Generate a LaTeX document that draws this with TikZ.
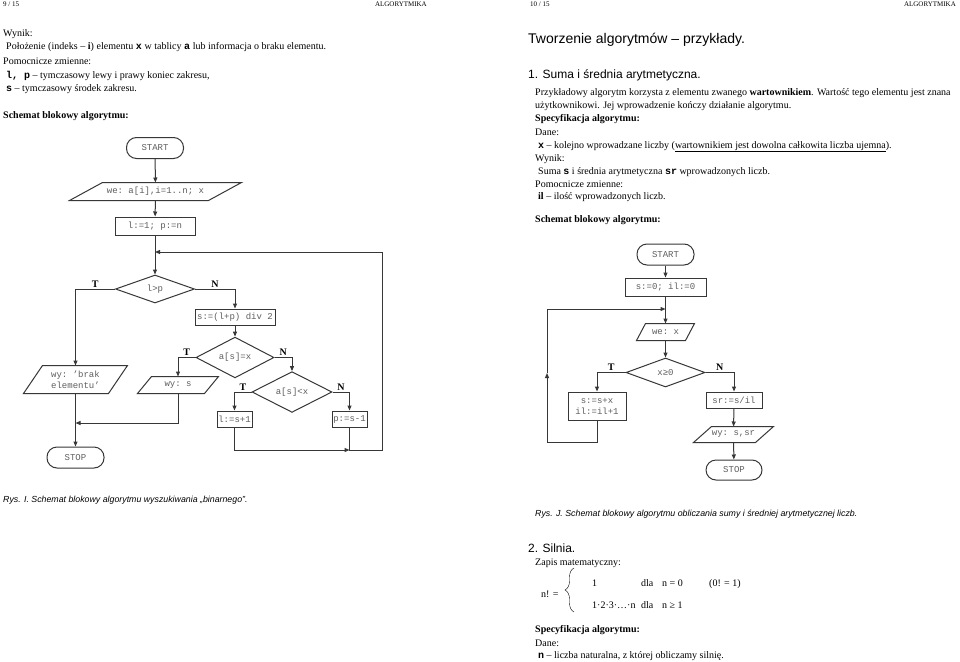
\documentclass[tikz,border=0pt]{standalone}
\usepackage{fontspec}
\setmainfont{Liberation Serif}
\setsansfont{Liberation Sans}
\setmonofont{Liberation Mono}
\usetikzlibrary{arrows.meta,shapes.geometric,decorations.pathreplacing}
\definecolor{fcline}{RGB}{55,55,55}
\definecolor{fctext}{RGB}{95,95,95}
\newcommand{\kod}[1]{\texttt{\textbf{#1}}}

\begin{document}
\begin{tikzpicture}[x=1pt, y=-1pt,
  fc/.style={draw=fcline, line width=1pt, text=fctext, inner sep=0pt,
    font=\ttfamily\fontsize{9}{11}\selectfont, align=center},
  term/.style={fc, rounded corners=10pt, minimum width=57pt, minimum height=21pt},
  proc/.style={fc, rectangle},
  decision/.style={fc, diamond},
  iobox/.style={fc, draw=none},
  flow/.style={draw=fcline, line width=1pt},
  arr/.style={flow, -{Triangle[length=5pt,width=4pt]}},
  lab/.style={font=\bfseries\fontsize{10}{12}\selectfont, inner sep=1.5pt},
  bodytxt/.style={anchor=base west, inner sep=0pt, font=\fontsize{10}{12}\selectfont},
  hdrtxt/.style={anchor=base west, inner sep=0pt, font=\fontsize{7}{8}\selectfont},
  sectxt/.style={anchor=base west, inner sep=0pt, font=\sffamily\fontsize{12}{14}\selectfont},
  captxt/.style={anchor=base west, inner sep=0pt, font=\sffamily\itshape\fontsize{8.8}{10}\selectfont}]
\fill[white] (0,0) rectangle (960,661);
\useasboundingbox (0,0) rectangle (960,661);

% ---- page 9: headers and text
\node[hdrtxt] (pgL) at (3,7) {9 / 15};
\node[hdrtxt, anchor=base east] (alL) at (427,7) {ALGORYTMIKA};
\node[bodytxt] (wynL) at (3,37) {Wynik:};
\node[bodytxt] (wynL1) at (6,50) {\makebox[320pt][s]{Położenie (indeks – \textbf{i}) elementu \kod{x} w tablicy \kod{a} lub informacja o braku elementu.}};
\node[bodytxt] (pomL) at (3,64.5) {Pomocnicze zmienne:};
\node[bodytxt] (pomL1) at (6,78) {\kod{l, p} – tymczasowy lewy i prawy koniec zakresu,};
\node[bodytxt] (pomL2) at (6,91) {\kod{s} – tymczasowy środek zakresu.};
\node[bodytxt] (schL) at (3,118) {\textbf{Schemat blokowy algorytmu:}};

% ---- binary search flowchart
\node[term] (start1) at (155,148) {START};
\node[iobox, minimum width=171pt, minimum height=17pt] (in1) at (155.5,191.5) {we: a[i],i=1..n; x};
\draw[flow] (in1.south west) -- ([xshift=33pt]in1.north west) -- (in1.north east) -- ([xshift=-33pt]in1.south east) -- cycle;
\node[proc, minimum width=80pt, minimum height=18pt] (init1) at (155,226) {l:=1; p:=n};
\coordinate (join1) at (155,252);
\node[decision, minimum width=79pt, minimum height=28pt] (cmp1) at (155,289) {l>p};
\node[iobox, minimum width=103pt, minimum height=27pt] (brak) at (75.5,379.5) {wy: ’brak\\elementu’};
\draw[flow] (brak.south west) -- ([xshift=19pt]brak.north west) -- (brak.north east) -- ([xshift=-19pt]brak.south east) -- cycle;
\node[proc, minimum width=80pt, minimum height=16pt] (mid) at (235,317) {s:=(l+p) div 2};
\node[decision, minimum width=78pt, minimum height=29pt] (eq) at (235,357.5) {a[s]=x};
\node[iobox, minimum width=80pt, minimum height=16pt] (outs) at (178,385) {wy: s};
\draw[flow] (outs.south west) -- ([xshift=14pt]outs.north west) -- (outs.north east) -- ([xshift=-14pt]outs.south east) -- cycle;
\node[decision, minimum width=80pt, minimum height=28pt] (lt) at (292,392) {a[s]<x};
\node[proc, minimum width=35pt, minimum height=16pt] (lnew) at (234.5,419) {l:=s+1};
\node[proc, minimum width=35pt, minimum height=16pt] (pnew) at (349.5,419) {p:=s-1};
\node[term] (stop1) at (75.5,457.5) {STOP};
\coordinate (merge1) at (75.5,423);
\coordinate (loopB) at (349.5,450);
\coordinate (loopR) at (382,450);

\draw[arr] (start1) -- (in1);
\draw[arr] (in1) -- (init1);
\draw[arr] (init1) -- (cmp1);
\draw[arr] (cmp1.west) -| node[lab, pos=0.25, above] (t1) {T} (brak.north);
\draw[arr] (cmp1.east) -| node[lab, pos=0.25, above] (n1) {N} (mid.north);
\draw[arr] (mid) -- (eq);
\draw[arr] (eq.west) -| node[lab, pos=0.25, above] (t2) {T} (outs.north);
\draw[arr] (eq.east) -| node[lab, pos=0.25, above] (n2) {N} (lt.north);
\draw[arr] (lt.west) -| node[lab, pos=0.25, above] (t3) {T} (lnew.north);
\draw[arr] (lt.east) -| node[lab, pos=0.25, above] (n3) {N} (pnew.north);
\draw[arr] (brak) -- (stop1);
\draw[arr] (outs.south) |- (merge1);
\draw[arr] (lnew.south) |- (loopB);
\draw[arr] (pnew.south) |- (loopR) |- (join1);

\node[captxt] (capI) at (3,502) {Rys. I. Schemat blokowy algorytmu wyszukiwania „binarnego”.};

% ---- page 10: headers and text
\node[hdrtxt] (pgR) at (530,7) {10 / 15};
\node[hdrtxt, anchor=base east] (alR) at (956,7) {ALGORYTMIKA};
\node[sectxt, font=\sffamily\fontsize{14}{16}\selectfont] (tytul) at (528,44) {Tworzenie algorytmów – przykłady.};
\node[sectxt] (sec1) at (528,78) {1. Suma i średnia arytmetyczna.};
\node[bodytxt] (opis1) at (535,95) {Przykładowy algorytm korzysta z elementu zwanego \textbf{wartownikiem}. Wartość tego elementu jest znana};
\node[bodytxt] (opis2) at (535,108) {użytkownikowi. Jej wprowadzenie kończy działanie algorytmu.};
\node[bodytxt] (spec1) at (535,121) {\textbf{Specyfikacja algorytmu:}};
\node[bodytxt] (dane1) at (535,135) {Dane:};
\node[bodytxt] (dane1a) at (538,148) {\kod{x} – kolejno wprowadzane liczby (\underline{wartownikiem jest dowolna całkowita liczba ujemna}).};
\node[bodytxt] (wyn1) at (535,161) {Wynik:};
\node[bodytxt] (wyn1a) at (538,174) {Suma \kod{s} i średnia arytmetyczna \kod{sr} wprowadzonych liczb.};
\node[bodytxt] (pom1) at (535,187) {Pomocnicze zmienne:};
\node[bodytxt] (pom1a) at (538,199.5) {\textbf{il} – ilość wprowadzonych liczb.};
\node[bodytxt] (sch1) at (535,222) {\textbf{Schemat blokowy algorytmu:}};

% ---- sum and mean flowchart
\node[term] (start2) at (665.5,254.5) {START};
\node[proc, minimum width=81pt, minimum height=18pt] (init2) at (665.5,287) {s:=0; il:=0};
\coordinate (join2) at (665.5,309);
\node[iobox, minimum width=57pt, minimum height=16pt] (in2) at (665.5,332) {we: x};
\draw[flow] (in2.south west) -- ([xshift=9pt]in2.north west) -- (in2.north east) -- ([xshift=-9pt]in2.south east) -- cycle;
\node[decision, minimum width=79pt, minimum height=29pt] (cmp2) at (665.5,372.5) {x≥0};
\node[proc, minimum width=58pt, minimum height=28pt] (sum) at (597,406) {s:=s+x\\il:=il+1};
\node[proc, minimum width=56pt, minimum height=16pt] (avg) at (734,400) {sr:=s/il};
\node[iobox, minimum width=79pt, minimum height=15pt] (out2) at (733.5,434.5) {wy: s,sr};
\draw[flow] (out2.south west) -- ([xshift=18pt]out2.north west) -- (out2.north east) -- ([xshift=-18pt]out2.south east) -- cycle;
\node[term, minimum width=56pt, minimum height=20pt] (stop2) at (734,470) {STOP};
\coordinate (back2) at (547,442);
\coordinate (mid2) at (547,373);

\draw[arr] (start2) -- (init2);
\draw[arr] (init2) -- (in2);
\draw[arr] (in2) -- (cmp2);
\draw[arr] (cmp2.west) -| node[lab, pos=0.25, above] (t4) {T} (sum.north);
\draw[arr] (cmp2.east) -| node[lab, pos=0.25, above] (n4) {N} (avg.north);
\draw[arr] (avg) -- (out2);
\draw[arr] (out2) -- (stop2);
\draw[arr] (sum.south) |- (back2) -- (mid2);
\draw[arr] (mid2) |- (join2);

\node[captxt] (capJ) at (535,516) {Rys. J. Schemat blokowy algorytmu obliczania sumy i średniej arytmetycznej liczb.};

% ---- factorial
\node[sectxt] (sec2) at (528,552) {2. Silnia.};
\node[bodytxt] (zapis) at (535,565) {Zapis matematyczny:};
\node[bodytxt] (nfact) at (541,597) {n! =};
\coordinate (brB) at (574,612);
\coordinate (brT) at (574,568);
\draw[decorate, decoration={brace, amplitude=9pt}] (brB) -- (brT);
\node[bodytxt] (r1a) at (592,586) {1};
\node[bodytxt] (r1b) at (641,586) {dla};
\node[bodytxt] (r1c) at (662,586) {n = 0};
\node[bodytxt] (r1d) at (709,586) {(0! = 1)};
\node[bodytxt] (r2a) at (592,608) {1·2·3·…·n};
\node[bodytxt] (r2b) at (641,608) {dla};
\node[bodytxt] (r2c) at (662,608) {n ≥ 1};
\node[bodytxt] (spec2) at (535,632) {\textbf{Specyfikacja algorytmu:}};
\node[bodytxt] (dane2) at (535,646) {Dane:};
\node[bodytxt] (dane2a) at (538,658) {\kod{n} – liczba naturalna, z której obliczamy silnię.};
\end{tikzpicture}
\end{document}
